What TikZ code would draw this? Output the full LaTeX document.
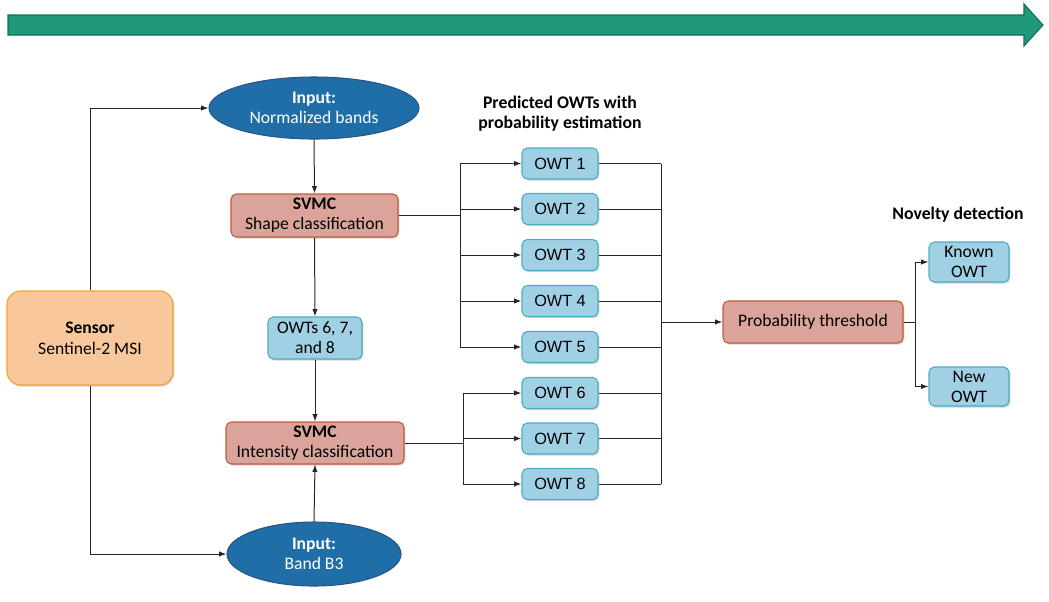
\documentclass[tikz,border=0pt]{standalone}
\usepackage{fontspec}
\setmainfont{Carlito}
\newfontfamily\owtfont{Liberation Sans}
\usetikzlibrary{shapes.geometric,arrows.meta,shadows}
\definecolor{inblue}{RGB}{31,110,168}
\definecolor{inblueb}{RGB}{40,85,130}
\definecolor{redf}{RGB}{218,164,155}
\definecolor{redb}{RGB}{192,92,58}
\definecolor{bluef}{RGB}{160,208,228}
\definecolor{blueb}{RGB}{75,172,198}
\definecolor{sensf}{RGB}{248,200,156}
\definecolor{sensb}{RGB}{240,162,48}
\definecolor{arrf}{RGB}{30,154,122}
\definecolor{arrb}{RGB}{20,110,86}
\def\u{0.75pt}
\tikzset{
  shad/.style={drop shadow={shadow xshift=1pt,shadow yshift=-1.2pt,fill=black!30,opacity=0.6}},
  inell/.style={ellipse,draw=inblueb,fill=inblue,line width=0.8pt,text=white,align=center,inner sep=0pt,font=\fontsize{13.2}{15}\selectfont},
  redbox/.style={rectangle,rounded corners=4pt,draw=redb,fill=redf,line width=0.8pt,align=center,inner sep=0pt,shad,font=\fontsize{13.2}{15}\selectfont},
  bluebox/.style={rectangle,rounded corners=4pt,draw=blueb,fill=bluef,line width=0.8pt,align=center,inner sep=0pt,shad,font=\fontsize{13.2}{15}\selectfont},
  owt/.style={bluebox,minimum width=76*\u,minimum height=31*\u,font=\owtfont\fontsize{12.2}{14}\selectfont},
  title/.style={font=\bfseries\fontsize{13.3}{15}\selectfont,align=center,inner sep=0pt},
  conn/.style={draw=black!85,line width=0.75pt},
  arr/.style={conn,-{Latex[length=5.5pt,width=4pt]}},
}
\begin{document}
\begin{tikzpicture}[x=0.75pt,y=-0.75pt]
\useasboundingbox (0,0) rectangle (1049,601);
% top arrow
\draw[draw=arrb,fill=arrf,line width=0.8pt] (8,15) -- (1024,15) -- (1024,4) -- (1043,25) -- (1024,46) -- (1024,35) -- (8,35) -- cycle;

% nodes
\node[inell,minimum width=210*\u,minimum height=62*\u] (in1) at (314,108) {\textbf{Input:}\\Normalized bands};
\node[redbox,minimum width=167*\u,minimum height=43*\u] (shape) at (314.5,215.5) {\textbf{SVMC}\\Shape classification};
\node[bluebox,minimum width=94*\u,minimum height=42*\u] (owts) at (315,338) {OWTs 6, 7,\\and 8};
\node[redbox,minimum width=178*\u,minimum height=42*\u] (inten) at (315,443) {\textbf{SVMC}\\Intensity classification};
\node[inell,minimum width=174*\u,minimum height=64*\u] (in2) at (314,554) {\textbf{Input:}\\Band B3};
\node[rectangle,rounded corners=10pt,draw=sensb,fill=sensf,line width=0.8pt,align=center,inner sep=0pt,shad,font=\fontsize{13.2}{16}\selectfont,minimum width=166*\u,minimum height=94*\u] (sensor) at (90,338) {\textbf{Sensor}\\Sentinel-2 MSI};

\node[title] (t1) at (560,114) {Predicted OWTs with\\probability estimation};
\node[owt] (o1) at (560,163.5) {OWT 1};
\node[owt] (o2) at (560,209) {OWT 2};
\node[owt] (o3) at (560,255) {OWT 3};
\node[owt] (o4) at (560,301) {OWT 4};
\node[owt] (o5) at (560,347) {OWT 5};
\node[owt] (o6) at (560,393) {OWT 6};
\node[owt] (o7) at (560,438.5) {OWT 7};
\node[owt] (o8) at (560,484) {OWT 8};

\node[redbox,minimum width=180*\u,minimum height=42*\u] (prob) at (813,322) {Probability threshold};
\node[title] (t2) at (958,215) {Novelty detection};
\node[bluebox,minimum width=80*\u,minimum height=40*\u] (known) at (969,262) {Known\\OWT};
\node[bluebox,minimum width=80*\u,minimum height=39*\u] (new) at (969,386.5) {New\\OWT};

% bus coordinates
\coordinate (b1) at (460,216);
\coordinate (b2) at (463,443);
\coordinate (rb) at (661,322);
\coordinate (nb) at (915,322);

% connectors
\draw[arr] (sensor.north) |- (in1.west);
\draw[arr] (sensor.south) |- (in2.west);
\draw[arr] (in1.south) -- (shape.north);
\draw[arr] (shape.south) -- (owts.north);
\draw[arr] (owts.south) -- (inten.north);
\draw[arr] (in2.north) -- (inten.south);

\draw[conn] (shape.east) -- (shape.east -| b1);
\draw[conn] (b1 |- o1.west) -- (b1 |- o5.west);
\foreach \o in {o1,o2,o3,o4,o5} \draw[arr] (b1 |- \o.west) -- (\o.west);

\draw[conn] (inten.east) -- (inten.east -| b2);
\draw[conn] (b2 |- o6.west) -- (b2 |- o8.west);
\foreach \o in {o6,o7,o8} \draw[arr] (b2 |- \o.west) -- (\o.west);

\foreach \o in {o1,o2,o3,o4,o5,o6,o7,o8} \draw[conn] (\o.east) -- (\o.east -| rb);
\draw[conn] (rb |- o1.east) -- (rb |- o8.east);
\draw[arr] (rb |- prob.west) -- (prob.west);

\draw[conn] (prob.east) -- (nb);
\draw[conn] (nb |- known.west) -- (nb |- new.west);
\draw[arr] (nb |- known.west) -- (known.west);
\draw[arr] (nb |- new.west) -- (new.west);
\end{tikzpicture}
\end{document}
